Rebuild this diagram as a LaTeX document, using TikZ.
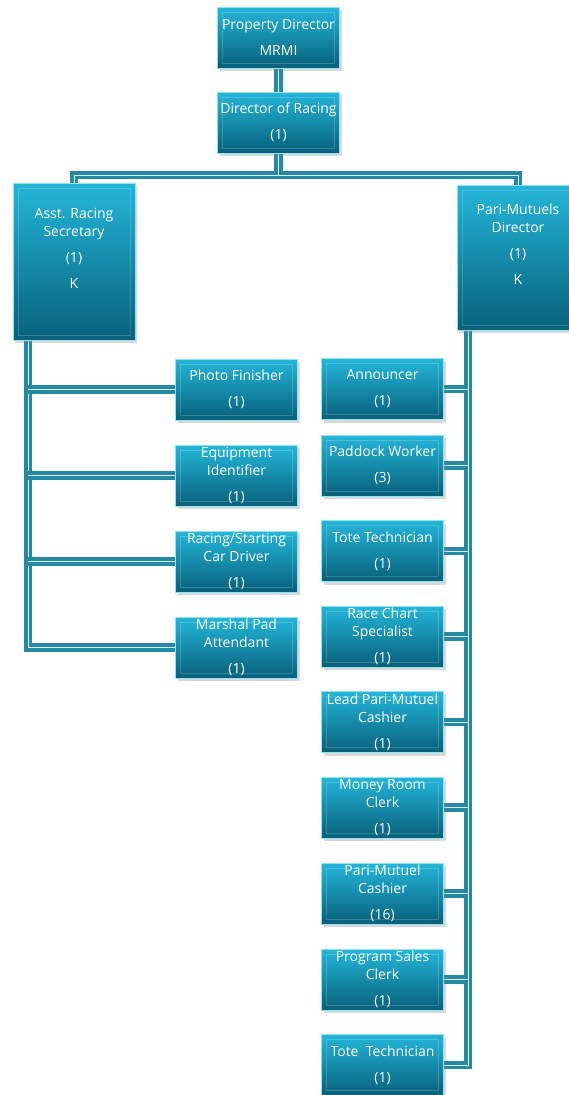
\documentclass[tikz,border=0pt]{standalone}
\usepackage{fontspec}
\setsansfont{Open Sans}
\usetikzlibrary{shadows,backgrounds}
\definecolor{boxtop}{HTML}{24B6DA}
\definecolor{boxbot}{HTML}{07607A}
\definecolor{linkcol}{HTML}{2689A4}
\definecolor{edgecol}{HTML}{8FE3F2}
\tikzset{
	job/.style={rectangle, top color=boxtop, bottom color=boxbot, draw=edgecol, line width=0.6pt,
		minimum width=122pt, minimum height=61pt, inner sep=0pt, align=center, text=white,
		font=\sffamily\fontsize{14}{18}\selectfont,
		drop shadow={opacity=0.3, shadow xshift=2pt, shadow yshift=-3pt},
		path picture={\draw[white, opacity=0.18, line width=0.6pt]
			([shift={(5pt,-5pt)}]path picture bounding box.north west) rectangle
			([shift={(-5pt,5pt)}]path picture bounding box.south east);}},
	link/.style={draw=linkcol, double=white!85!cyan, double distance=1pt, line width=3.6pt}
}
\begin{document}
\begin{tikzpicture}[x=1pt,y=-1pt]
				% Rahmen: 568 x 1095
				\useasboundingbox (0,0) rectangle (568,1095);
				\node[job] (prop)   at (278.5,37.5)  {Property Director\\[8pt]MRMI};
				\node[job] (racing) at (278.5,122.5) {Director of Racing\\[8pt](1)};
				\node[job, minimum height=157pt] (asst) at (74,261.5)  {Asst. Racing\\Secretary\\[8pt](1)\\[8pt]K\\[9pt]\mbox{}};
				\node[job, minimum height=145pt] (pari) at (518,257.5) {Pari-Mutuels\\Director\\[8pt](1)\\[8pt]K\\[9pt]\mbox{}};
				% linke Spalte
				\node[job] (photo)   at (236.5,389.5) {Photo Finisher\\[8pt](1)};
				\node[job] (equip)   at (236.5,475.5) {Equipment\\Identifier\\[8pt](1)};
				\node[job] (driver)  at (236.5,561.5) {Racing/Starting\\Car Driver\\[8pt](1)};
				\node[job] (marshal) at (236.5,647.5) {Marshal Pad\\Attendant\\[8pt](1)};
				% rechte Spalte
				\node[job] (announce) at (382.5,389)    {Announcer\\[8pt](1)};
				\node[job] (paddock)  at (382.5,465.5)  {Paddock Worker\\[8pt](3)};
				\node[job] (tote)     at (382.5,551)    {Tote Technician\\[8pt](1)};
				\node[job] (chart)    at (382.5,636.5)  {Race Chart\\Specialist\\[8pt](1)};
				\node[job] (lead)     at (382.5,722)    {Lead Pari-Mutuel\\Cashier\\[8pt](1)};
				\node[job] (money)    at (382.5,807.5)  {Money Room\\Clerk\\[8pt](1)};
				\node[job] (cashier)  at (382.5,893.5)  {Pari-Mutuel\\Cashier\\[8pt](16)};
				\node[job] (program)  at (382.5,979.5)  {Program Sales\\Clerk\\[8pt](1)};
				\node[job] (totetwo)  at (382.5,1065)   {Tote\ \ Technician\\[8pt](1)};
				\coordinate (split) at (278.5,175);
				\coordinate (lbus) at (28,340);
				\coordinate (rbus) at (468,330);
				\begin{scope}[on background layer]
					\draw[link] (prop) -- (racing);
					\draw[link] (racing.south) -- (split) -| (asst.north);
					\draw[link] (split) -| (pari.north);
					\draw[link] (lbus) |- (marshal.west);
					\foreach \n in {photo,equip,driver}
						\draw[link] (\n.west) -- (\n.west -| lbus);
					\draw[link] (rbus) |- (totetwo.east);
					\foreach \n in {announce,paddock,tote,chart,lead,money,cashier,program}
						\draw[link] (\n.east) -- (\n.east -| rbus);
				\end{scope}
			\end{tikzpicture}
\end{document}
